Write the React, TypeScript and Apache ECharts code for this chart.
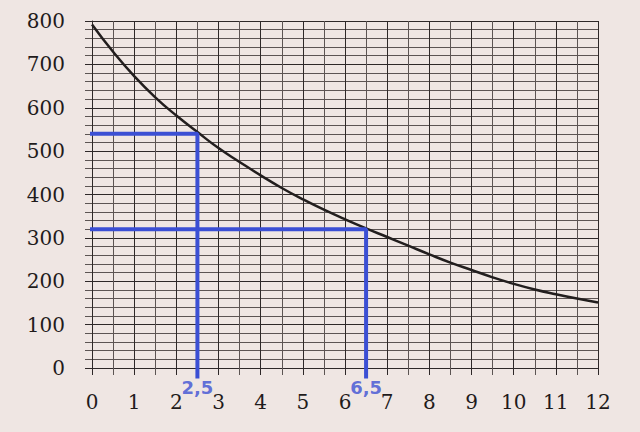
import React, { useEffect, useRef } from "react";
import * as echarts from "echarts";

const xValues = [0, 0.5, 1, 1.5, 2, 2.5, 3, 3.5, 4, 4.5, 5, 5.5, 6, 6.5, 7, 7.5, 8, 8.5, 9, 9.5, 10, 10.5, 11, 11.5, 12];
const yValues = [792, 729, 673, 624, 582, 544, 507, 475, 444, 415, 389, 365, 343, 322, 302, 282, 262, 243, 226, 209, 194, 181, 170, 160, 151];
const guideX = [2.5, 6.5];
const guideY = [540, 320];
const guideLabels = ["2,5", "6,5"];

const MAJOR = "#2e2828";
const MINOR = "#5c5453";
const BLUE = "#3b4fd4";

export default function App() {
  const ref = useRef<HTMLDivElement>(null);
  useEffect(() => {
    document.body.style.margin = "0";
    const chart = echarts.init(ref.current!, null, { renderer: "svg" });
    const curve = xValues.map((x, i) => [x, yValues[i]]);
    const guideSeries: any[] = guideX.map((gx, i) => ({
      type: "line",
      data: [
        [i === 0 ? -0.15 : -0.2, guideY[i]],
        [gx, guideY[i]],
        [gx, -24],
      ],
      symbol: "none",
      clip: false,
      lineStyle: { color: BLUE, width: 4 },
      z: 5,
      silent: true,
    }));
    chart.setOption({
      animation: false,
      backgroundColor: "#efe6e3",
      grid: { left: 92, right: 42, top: 21, bottom: 64 },
      xAxis: {
        type: "value",
        min: 0,
        max: 12,
        interval: 1,
        axisLine: { show: true, lineStyle: { color: MAJOR, width: 1 } },
        axisTick: { show: true, length: 7, inside: false, lineStyle: { color: MAJOR } },
        minorTick: { show: true, splitNumber: 2, length: 7, lineStyle: { color: MINOR } },
        splitLine: { show: true, lineStyle: { color: MAJOR, width: 1 } },
        minorSplitLine: { show: true, lineStyle: { color: MINOR, width: 1 } },
        axisLabel: {
          margin: 24,
          color: "#1f1b1b",
          fontFamily: "DejaVu Serif",
          fontSize: 20,
        },
      },
      yAxis: {
        type: "value",
        min: 0,
        max: 800,
        interval: 100,
        axisLine: { show: true, lineStyle: { color: MAJOR, width: 1 } },
        axisTick: { show: true, length: 7, lineStyle: { color: MAJOR } },
        minorTick: { show: true, splitNumber: 5, length: 7, lineStyle: { color: MINOR } },
        splitLine: { show: true, lineStyle: { color: MAJOR, width: 1 } },
        minorSplitLine: { show: true, lineStyle: { color: MINOR, width: 1 } },
        axisLabel: {
          margin: 27,
          color: "#1f1b1b",
          fontFamily: "DejaVu Serif",
          fontSize: 20,
        },
      },
      series: [
        {
          type: "line",
          data: curve,
          smooth: true,
          symbol: "none",
          lineStyle: { color: "#221e1e", width: 2.5 },
          z: 4,
          silent: true,
        },
        ...guideSeries,
        {
          type: "scatter",
          data: guideX.map((gx, i) => ({ value: [gx, -44], name: guideLabels[i] })),
          symbolSize: 0,
          clip: false,
          z: 6,
          label: {
            show: true,
            position: "inside",
            formatter: (p: any) => p.name,
            color: BLUE,
            fontFamily: "DejaVu Sans",
            fontWeight: "bold",
            fontSize: 18,
          },
          silent: true,
        },
      ],
    });
    return () => chart.dispose();
  }, []);
  return <div ref={ref} style={{ width: 640, height: 432, background: "#efe6e3" }} />;
}
